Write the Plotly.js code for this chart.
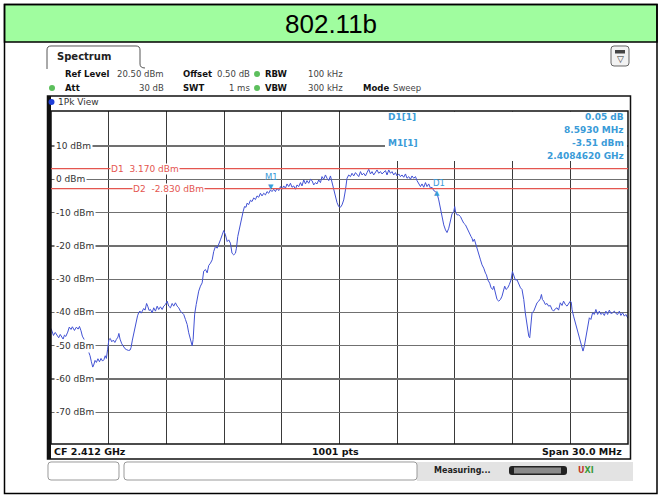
<!DOCTYPE html>
<html><head><meta charset="utf-8">
<script src="https://cdn.plot.ly/plotly-3.0.1.min.js"></script>
<style>html,body{margin:0;padding:0;background:#fff;overflow:hidden}#chart{width:661px;height:495px}</style>
</head><body><div id="chart"></div>
<script>
// ---------------- data ----------------
const chartTitle = "802.11b";
const startFreqMHz = 2397;          // CF 2.412 GHz, span 30 MHz
const centerFreqGHz = 2.412;
const spanMHz = 30;
const sweepPoints = 1001;
const refLevelDbm = 20.5;
const rangeDb = 100;

// trace: frequency offset from start (MHz) and level (dBm)
const offsetMHz = [
0.00,0.07,0.13,0.22,0.32,0.40,0.48,0.55,0.63,0.70,0.77,0.87,0.95,1.04,1.11,1.22,1.32,1.41,1.48,1.56,
1.63,1.74,1.86,1.94,2.03,2.10,2.17,2.22,2.29,2.36,2.44,2.52,2.60,2.68,2.75,2.82,2.88,2.94,3.01,3.08,
3.16,3.24,3.32,3.40,3.48,3.53,3.59,3.68,3.76,3.85,3.94,4.03,4.11,4.16,4.23,4.30,4.36,4.42,4.50,4.57,
4.63,4.69,4.76,4.82,4.89,4.97,5.04,5.10,5.17,5.26,5.34,5.43,5.52,5.60,5.69,5.78,5.86,5.95,6.04,6.12,
6.21,6.30,6.38,6.47,6.56,6.64,6.73,6.82,6.90,6.99,7.08,7.16,7.25,7.34,7.39,7.42,7.47,7.55,7.62,7.68,
7.77,7.86,7.94,8.03,8.12,8.20,8.29,8.38,8.46,8.55,8.64,8.72,8.81,8.90,8.98,9.07,9.16,9.24,9.33,9.41,
9.50,9.59,9.64,9.71,9.81,9.88,9.99,10.06,10.14,10.19,10.28,10.37,10.45,10.54,10.63,10.71,10.80,10.89,10.97,11.06,
11.15,11.23,11.32,11.41,11.49,11.58,11.67,11.75,11.84,11.93,12.01,12.10,12.19,12.27,12.36,12.45,12.53,12.62,12.71,12.79,
12.88,12.97,13.05,13.14,13.23,13.31,13.40,13.49,13.57,13.66,13.75,13.83,13.92,14.01,14.09,14.18,14.27,14.35,14.44,14.53,
14.58,14.65,14.72,14.79,14.87,14.96,15.05,15.13,15.22,15.31,15.39,15.48,15.57,15.65,15.74,15.83,15.91,16.00,16.09,16.17,
16.26,16.35,16.43,16.52,16.61,16.69,16.78,16.87,16.95,17.04,17.13,17.21,17.30,17.39,17.47,17.56,17.65,17.73,17.82,17.91,
17.99,18.08,18.17,18.25,18.34,18.43,18.51,18.60,18.69,18.77,18.86,18.95,19.03,19.12,19.21,19.29,19.38,19.47,19.55,19.64,
19.73,19.81,19.90,19.99,20.07,20.16,20.25,20.33,20.42,20.51,20.59,20.68,20.77,20.85,20.94,20.99,21.04,21.11,21.20,21.29,
21.37,21.46,21.55,21.63,21.72,21.77,21.84,21.89,21.94,22.01,22.07,22.12,22.19,22.24,22.33,22.41,22.50,22.59,22.64,22.71,
22.81,22.88,22.97,23.02,23.11,23.19,23.28,23.37,23.45,23.54,23.59,23.66,23.75,23.83,23.92,23.99,24.06,24.14,24.23,24.32,
24.41,24.49,24.58,24.66,24.75,24.84,24.89,24.94,25.01,25.10,25.19,25.27,25.36,25.44,25.50,25.55,25.62,25.70,25.79,25.87,
25.96,26.05,26.13,26.22,26.31,26.39,26.48,26.57,26.65,26.74,26.83,26.91,27.00,27.05,27.09,27.17,27.26,27.35,27.43,27.52,
27.61,27.66,27.73,27.81,27.90,27.99,28.07,28.16,28.25,28.33,28.42,28.51,28.59,28.68,28.77,28.85,28.94,29.03,29.11,29.20,
29.29,29.37,29.46,29.55,29.63,29.72,29.81,29.89,30.00
];
const levelDbm = [
-44.8,-46.2,-46.9,-46.0,-46.8,-47.6,-46.6,-47.2,-48.0,-46.8,-47.2,-45.9,-44.4,-45.1,-44.3,-45.4,-44.4,-45.0,-44.2,-45.5,
-47.1,-48.3,-50.3,-51.2,-53.0,-54.8,-56.4,-55.8,-54.4,-55.0,-53.9,-54.8,-53.8,-54.6,-54.2,-53.0,-53.8,-51.2,-48.2,-47.8,
-48.8,-48.3,-49.0,-48.1,-47.4,-46.3,-48.0,-49.4,-50.2,-50.9,-51.2,-51.4,-51.3,-50.6,-48.3,-46.2,-44.6,-42.8,-41.0,-39.9,
-39.6,-40.2,-39.2,-38.8,-39.3,-37.3,-38.3,-39.4,-39.1,-40.1,-38.6,-39.6,-38.1,-39.1,-38.3,-39.1,-38.1,-37.6,-36.6,-38.1,
-38.6,-37.3,-38.1,-37.1,-38.1,-38.6,-39.6,-40.1,-40.6,-42.1,-43.6,-46.1,-48.1,-50.0,-48.1,-43.5,-40.5,-37.6,-35.5,-33.6,
-32.1,-31.1,-27.6,-27.1,-28.1,-25.9,-25.2,-24.2,-21.7,-20.2,-20.7,-19.2,-18.2,-16.7,-15.4,-16.7,-18.7,-18.2,-19.2,-22.2,
-22.7,-22.2,-20.7,-17.2,-14.2,-12.2,-9.7,-8.2,-8.4,-7.2,-7.6,-6.3,-6.7,-5.6,-6.1,-5.0,-5.4,-4.2,-5.0,-4.2,
-4.7,-3.7,-4.2,-3.2,-3.7,-3.0,-3.7,-2.7,-3.4,-2.2,-3.0,-2.0,-2.7,-1.4,-2.2,-1.2,-2.4,-2.0,-3.0,-1.7,
-2.2,-1.0,-2.0,-0.2,-1.4,-0.4,-1.2,0.0,-0.4,-1.7,-1.0,-1.4,-0.2,-1.0,0.8,0.0,1.3,0.3,-0.4,1.0,
-0.2,-1.7,-3.7,-5.2,-7.0,-8.2,-8.4,-7.7,-6.2,-3.2,0.3,1.3,0.8,1.8,1.0,2.0,1.3,0.8,2.3,1.3,
1.8,1.0,2.0,3.0,1.6,2.3,1.3,2.0,2.8,1.8,2.3,1.6,2.0,2.6,1.3,2.8,1.8,2.3,1.3,2.0,
1.0,1.6,0.8,1.3,0.6,1.6,0.3,0.8,0.0,1.0,0.3,0.8,-0.4,-1.2,-2.2,-1.4,-2.4,-1.0,-2.2,-1.4,
-2.7,-2.4,-3.4,-3.7,-4.2,-6.2,-9.2,-11.7,-13.7,-15.2,-16.0,-14.7,-12.0,-10.4,-9.7,-8.2,-10.0,-10.7,-10.7,-11.2,
-12.2,-13.2,-13.7,-14.7,-16.2,-16.7,-17.2,-17.7,-18.7,-18.0,-19.2,-20.7,-21.7,-23.2,-24.2,-25.7,-26.7,-28.2,-28.7,-30.2,
-31.2,-32.6,-33.1,-32.1,-34.1,-36.1,-36.6,-36.1,-35.1,-33.1,-32.1,-33.1,-32.6,-31.6,-30.2,-27.7,-29.2,-30.2,-30.2,-31.6,
-32.6,-33.1,-36.1,-40.1,-44.1,-47.1,-47.6,-44.6,-40.1,-39.6,-38.1,-37.1,-36.6,-35.9,-34.6,-36.1,-36.6,-37.6,-37.3,-38.1,
-37.9,-39.1,-39.6,-38.9,-38.6,-39.3,-37.1,-37.9,-36.6,-37.6,-38.1,-37.3,-36.6,-36.9,-39.1,-41.1,-43.1,-45.1,-47.1,-49.1,
-50.6,-51.6,-50.1,-47.1,-44.1,-41.6,-42.1,-40.1,-40.6,-39.1,-40.6,-39.6,-40.6,-40.1,-40.9,-39.6,-40.6,-39.3,-40.3,-40.1,
-39.6,-40.3,-40.6,-39.6,-40.9,-40.1,-41.1,-40.6,-41.8
];

const yTickValues = [10, 0, -10, -20, -30, -40, -50, -60, -70];
const yTickLabels = ["10 dBm", "0 dBm", "-10 dBm", "-20 dBm", "-30 dBm", "-40 dBm", "-50 dBm", "-60 dBm", "-70 dBm"];
const xGridMHz = [2400, 2403, 2406, 2409, 2412, 2415, 2418, 2421, 2424];

const displayLineNames = ["D1", "D2"];
const displayLineDbm = [3.17, -2.83];

const m1FreqGHz = 2.4084620;
const m1LevelDbm = -3.51;
const d1DeltaMHz = 8.5930;
const d1DeltaDb = 0.05;

const settingsRow1 = [["Ref Level", "20.50 dBm"], ["Offset", "0.50 dB"], ["RBW", "100 kHz"]];
const settingsRow2 = [["Att", "30 dB"], ["SWT", "1 ms"], ["VBW", "300 kHz"], ["Mode", "Sweep"]];

// ---------------- geometry ----------------
const W = 661, H = 495, L = 51, R = 33, T = 111, B = 51;
const PW = W - L - R, PH = H - T - B;
const px = x => (x - L) / PW;
const py = y => 1 - (y - T) / PH;
const P = (x, y) => px(x).toFixed(5) + "," + py(y).toFixed(5);
function rrect(x0, y0, x1, y1, r) {
  return `M${P(x0 + r, y0)} L${P(x1 - r, y0)} Q${P(x1, y0)} ${P(x1, y0 + r)} L${P(x1, y1 - r)} Q${P(x1, y1)} ${P(x1 - r, y1)} L${P(x0 + r, y1)} Q${P(x0, y1)} ${P(x0, y1 - r)} L${P(x0, y0 + r)} Q${P(x0, y0)} ${P(x0 + r, y0)} Z`;
}
const FONT = "DejaVu Sans";
const mkColor = "#3a9bd8";
const redColor = "#e4564f";

function txt(x, y, text, o = {}) {
  return Object.assign({
    xref: "paper", yref: "paper", x: px(x), y: py(y), text: text, showarrow: false,
    xanchor: "left", yanchor: "middle",
    font: {family: FONT, size: 9, color: "#222"}
  }, o);
}

const freqs = offsetMHz.map(o => startFreqMHz + o);

const traces = [{
  type: "scatter", mode: "lines", x: freqs, y: levelDbm,
  line: {color: "#4252d4", width: 1}, hoverinfo: "skip", showlegend: false
}];

const annotations = [];
const shapes = [];

// header
shapes.push({type: "rect", xref: "paper", yref: "paper", x0: px(4.5), x1: px(657), y0: py(4.5), y1: py(42),
  fillcolor: "#a0fd9f", line: {color: "#000", width: 1.5}, layer: "above"});
shapes.push({type: "rect", xref: "paper", yref: "paper", x0: px(4.5), x1: px(657), y0: py(4.5), y1: py(493.5),
  fillcolor: "rgba(0,0,0,0)", line: {color: "#000", width: 1.5}, layer: "above"});
annotations.push(txt(330.5, 24, chartTitle, {xanchor: "center", font: {family: "Liberation Sans", size: 26, color: "#000"}}));

// tab
shapes.push({type: "path", xref: "paper", yref: "paper",
  path: `M${P(47, 69)} L${P(47, 50)} Q${P(47, 46)} ${P(51, 46)} L${P(136, 46)} Q${P(140, 46)} ${P(140, 50)} L${P(140, 64)} Q${P(140, 68)} ${P(145, 68)}`,
  line: {color: "#555", width: 1}, layer: "above"});
annotations.push(txt(55, 57, "<b>Spectrum</b>", {font: {family: FONT, size: 10, color: "#222"}}));
// icon
shapes.push({type: "path", xref: "paper", yref: "paper", path: rrect(611, 46, 629, 66, 3),
  fillcolor: "#f2f2f2", line: {color: "#666", width: 1}, layer: "above"});
shapes.push({type: "rect", xref: "paper", yref: "paper", x0: px(615), x1: px(625), y0: py(50), y1: py(53.5),
  fillcolor: "#444", line: {width: 0}, layer: "above"});
annotations.push(txt(620, 59, "▽", {xanchor: "center", font: {family: FONT, size: 9, color: "#333"}}));

// settings rows
const labelX = [63, 181, 263, 361];
const valRightX = [166, 252];
const valLeftX = [306, 391];
function settingRow(row, y) {
  row.forEach((pair, i) => {
    annotations.push(txt(labelX[i], y, "<b>" + pair[0] + "</b>", {font: {family: FONT, size: 8.5, color: "#111"}}));
    if (i < 2) annotations.push(txt(valRightX[i], y, pair[1], {xanchor: "right", font: {family: FONT, size: 8.5, color: "#444"}}));
    else annotations.push(txt(valLeftX[i - 2], y, pair[1], {font: {family: FONT, size: 8.5, color: "#444"}}));
  });
}
settingRow(settingsRow1, 74);
settingRow(settingsRow2, 88);
[[257, 74], [52, 88], [257, 88]].forEach(([cx, cy]) => shapes.push({type: "circle", xref: "paper", yref: "paper",
  x0: px(cx - 3), x1: px(cx + 3), y0: py(cy - 3), y1: py(cy + 3), fillcolor: "#5cbf5c", line: {width: 0}, layer: "above"}));

// window frame
shapes.push({type: "rect", xref: "paper", yref: "paper", x0: px(47.5), x1: px(630.5), y0: py(96), y1: py(459),
  fillcolor: "rgba(0,0,0,0)", line: {color: "#111", width: 1.5}, layer: "above"});
shapes.push({type: "line", xref: "paper", yref: "paper", x0: px(49.5), x1: px(49.5), y0: py(96), y1: py(459),
  line: {color: "#111", width: 3}, layer: "above"});
shapes.push({type: "circle", xref: "paper", yref: "paper", x0: px(48.5), x1: px(54.5), y0: py(99), y1: py(105),
  fillcolor: "#1f3fd8", line: {width: 0}, layer: "above"});
annotations.push(txt(56, 102, "1Pk View", {font: {family: FONT, size: 9, color: "#333"}}));

// marker info area (white box hides grid)
shapes.push({type: "rect", xref: "paper", yref: "paper", x0: px(385), x1: px(627), y0: py(111.5), y1: py(161),
  fillcolor: "#fff", line: {width: 0}, layer: "above"});
const mkFont = {family: FONT, size: 9, color: mkColor};
annotations.push(txt(386, 117, "<b>D1[1]</b>", {font: mkFont}));
annotations.push(txt(386, 143, "<b>M1[1]</b>", {font: mkFont}));
annotations.push(txt(626, 117, "<b>" + d1DeltaDb.toFixed(2) + " dB</b>", {xanchor: "right", font: mkFont}));
annotations.push(txt(626, 130, "<b>" + d1DeltaMHz.toFixed(4) + " MHz</b>", {xanchor: "right", font: mkFont}));
annotations.push(txt(626, 143, "<b>" + m1LevelDbm.toFixed(2) + " dBm</b>", {xanchor: "right", font: mkFont}));
annotations.push(txt(626, 156, "<b>" + m1FreqGHz.toFixed(7) + " GHz</b>", {xanchor: "right", font: mkFont}));

// plot border
shapes.push({type: "rect", xref: "paper", yref: "paper", x0: 0, x1: 1, y0: 0, y1: 1,
  fillcolor: "rgba(0,0,0,0)", line: {color: "#111", width: 1.5}, layer: "above"});

// display lines
const dlLabelX = [110, 132];
displayLineDbm.forEach((v, i) => {
  shapes.push({type: "line", xref: "paper", yref: "y", x0: 0, x1: 1, y0: v, y1: v,
    line: {color: redColor, width: 1.2}, layer: "above"});
  annotations.push({xref: "paper", yref: "y", x: px(dlLabelX[i]), y: v, xanchor: "left", yanchor: "middle",
    text: displayLineNames[i] + "  " + v.toFixed(3) + " dBm", showarrow: false, bgcolor: "#fff", borderpad: 0,
    font: {family: FONT, size: 9, color: redColor}});
});

// y tick labels
yTickValues.forEach((v, i) => annotations.push({xref: "paper", yref: "y", x: px(54), y: v, xanchor: "left",
  yanchor: "middle", text: yTickLabels[i], showarrow: false, bgcolor: "#fff", borderpad: 1,
  font: {family: FONT, size: 9, color: "#333"}}));

// markers
const m1X = m1FreqGHz * 1000, d1X = m1X + d1DeltaMHz, d1Y = m1LevelDbm + d1DeltaDb;
annotations.push({x: m1X, y: m1LevelDbm, xref: "x", yref: "y", text: "▼", showarrow: false, yshift: 4,
  font: {family: FONT, size: 7, color: mkColor}});
annotations.push({x: m1X, y: m1LevelDbm, xref: "x", yref: "y", text: "M1", showarrow: false, yshift: 14,
  font: {family: FONT, size: 8.5, color: mkColor}});
annotations.push({x: d1X, y: d1Y, xref: "x", yref: "y", text: "▲", showarrow: false, yshift: -2,
  font: {family: FONT, size: 7, color: mkColor}});
annotations.push({x: d1X, y: d1Y, xref: "x", yref: "y", text: "D1", showarrow: false, yshift: 8, xshift: 2,
  font: {family: FONT, size: 8.5, color: mkColor}});

// bottom info row
annotations.push(txt(52, 452, "<b>CF " + centerFreqGHz.toFixed(3) + " GHz</b>", {font: {family: FONT, size: 9.5, color: "#111"}}));
annotations.push(txt(335, 452, "<b>" + sweepPoints + " pts</b>", {xanchor: "center", font: {family: FONT, size: 9.5, color: "#111"}}));
annotations.push(txt(624, 452, "<b>Span " + spanMHz.toFixed(1) + " MHz</b>", {xanchor: "right", font: {family: FONT, size: 9.5, color: "#111"}}));

// status row
shapes.push({type: "rect", xref: "paper", yref: "paper", x0: px(417), x1: px(633), y0: py(462), y1: py(481),
  fillcolor: "#e3e3e3", line: {width: 0}, layer: "above"});
shapes.push({type: "path", xref: "paper", yref: "paper", path: rrect(48, 462, 119, 480, 3),
  fillcolor: "#fff", line: {color: "#9a9a9a", width: 1}, layer: "above"});
shapes.push({type: "path", xref: "paper", yref: "paper", path: rrect(124, 462, 417, 480, 3),
  fillcolor: "#fff", line: {color: "#9a9a9a", width: 1}, layer: "above"});
shapes.push({type: "path", xref: "paper", yref: "paper", path: rrect(509, 466, 567, 475, 3),
  fillcolor: "#222", line: {width: 0}, layer: "above"});
shapes.push({type: "rect", xref: "paper", yref: "paper", x0: px(514), x1: px(561), y0: py(467.5), y1: py(473.5),
  fillcolor: "#8a8a8a", line: {width: 0}, layer: "above"});
annotations.push(txt(432, 470, "<b>Measuring...</b>", {font: {family: FONT, size: 8, color: "#222"}}));
annotations.push(txt(576, 470, "<b><span style='color:#c0392b'>U</span><span style='color:#3a9a3a'>XI</span></b>", {font: {family: FONT, size: 8, color: "#3a9a3a"}}));

const layout = {
  width: W, height: H,
  margin: {l: L, r: R, t: T, b: B, pad: 0},
  paper_bgcolor: "#fff", plot_bgcolor: "#fff",
  showlegend: false,
  xaxis: {range: [startFreqMHz, startFreqMHz + spanMHz], tickvals: xGridMHz, showticklabels: false,
    ticks: "", showgrid: true, gridcolor: "#3a3a3a", gridwidth: 1, zeroline: false, showline: false, fixedrange: true},
  yaxis: {range: [refLevelDbm - rangeDb, refLevelDbm], tickvals: yTickValues, showticklabels: false,
    ticks: "", showgrid: true, gridcolor: "#707070", gridwidth: 1.3, zeroline: false, showline: false, fixedrange: true},
  shapes: shapes,
  annotations: annotations
};

Plotly.newPlot("chart", traces, layout, {staticPlot: true, displayModeBar: false});
</script>
</body></html>
